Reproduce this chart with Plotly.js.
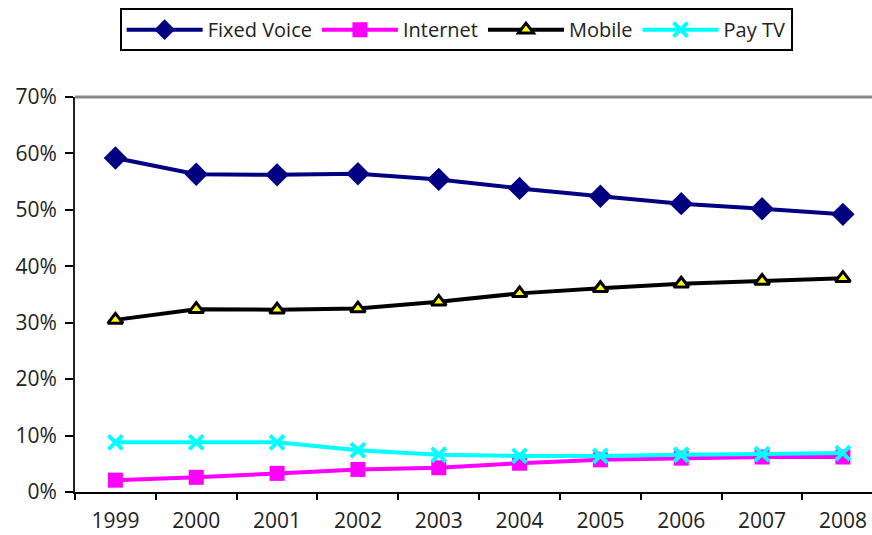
<!DOCTYPE html>
<html>
<head>
<meta charset="utf-8">
<script src="https://cdn.plot.ly/plotly-3.0.1.min.js"></script>
<style>html,body{margin:0;padding:0;background:#fff;}#chart{width:872px;height:535px;}</style>
</head>
<body>
<div id="chart"></div>
<script>
const years = ["1999","2000","2001","2002","2003","2004","2005","2006","2007","2008"];
const fixedVoice = [59.2, 56.3, 56.2, 56.4, 55.4, 53.8, 52.4, 51.1, 50.2, 49.2];
const internet = [2.1, 2.6, 3.3, 4.0, 4.3, 5.1, 5.7, 6.0, 6.2, 6.2];
const mobile = [30.5, 32.4, 32.3, 32.5, 33.7, 35.2, 36.1, 36.9, 37.4, 37.9];
const payTV = [8.8, 8.8, 8.8, 7.4, 6.6, 6.4, 6.4, 6.6, 6.7, 6.9];
const yTicks = [0, 10, 20, 30, 40, 50, 60, 70];
const yTickText = ["0%", "10%", "20%", "30%", "40%", "50%", "60%", "70%"];

const traces = [
  {name: "Fixed Voice", x: years, y: fixedVoice, type: "scatter", mode: "lines+markers",
   line: {color: "#000080", width: 4},
   marker: {symbol: "diamond", size: 18, color: "#000080"}},
  {name: "Internet", x: years, y: internet, type: "scatter", mode: "lines+markers",
   line: {color: "#FF00FF", width: 4},
   marker: {symbol: "square", size: 15, color: "#FF00FF"}},
  {name: "Mobile", x: years, y: mobile, type: "scatter", mode: "lines+markers",
   line: {color: "#000000", width: 4},
   marker: {symbol: "triangle-up", size: 13, color: "#FFFF00", line: {color: "#000000", width: 3}}},
  {name: "Pay TV", x: years, y: payTV, type: "scatter", mode: "lines+markers",
   line: {color: "#00FFFF", width: 4},
   marker: {symbol: "x-thin", size: 14, color: "#00FFFF", line: {color: "#00FFFF", width: 4}}}
];

const fontFam = "Open Sans, sans-serif";
const layout = {
  width: 872, height: 535,
  margin: {l: 75, r: 0, t: 97, b: 43},
  paper_bgcolor: "#fff", plot_bgcolor: "#fff",
  font: {family: fontFam, size: 21, color: "#222"},
  showlegend: true,
  legend: {orientation: "h", x: 0.056, xanchor: "left", y: 1.225, yanchor: "top",
           bordercolor: "#000", borderwidth: 2, font: {family: fontFam, size: 20, color: "#222"},
           itemwidth: 76, traceorder: "normal"},
  xaxis: {type: "category", range: [-0.5, 9.36], showgrid: false, zeroline: false,
          showline: true, linecolor: "#000", linewidth: 2,
          ticks: "outside", tickson: "boundaries", ticklen: 6, tickwidth: 2, tickcolor: "#000",
          tickfont: {family: fontFam, size: 21, color: "#222"},
          ticklabelstandoff: 9, fixedrange: true},
  yaxis: {range: [0, 70], tickmode: "array", tickvals: yTicks, ticktext: yTickText,
          showgrid: false, zeroline: false,
          showline: true, linecolor: "#222", linewidth: 2,
          tickfont: {family: fontFam, size: 21, color: "#222"},
          ticks: "outside", ticklen: 8, tickwidth: 2, tickcolor: "#000",
          ticklabelstandoff: 4, fixedrange: true},
  shapes: [{type: "line", xref: "paper", yref: "paper", x0: 0, x1: 1, y0: 1, y1: 1,
            line: {color: "#888", width: 3}}]
};

Plotly.newPlot("chart", traces, layout, {displayModeBar: false, staticPlot: true});
</script>
</body>
</html>
